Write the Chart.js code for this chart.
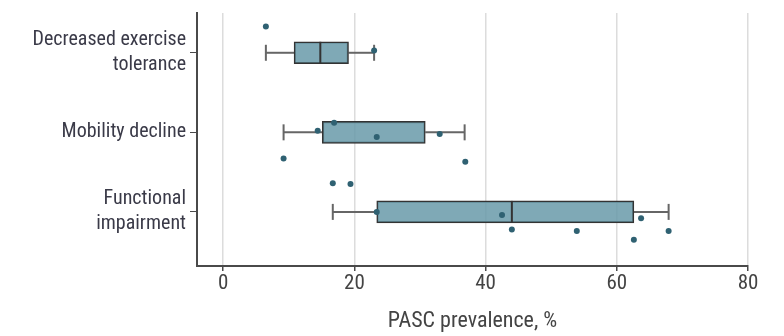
<!DOCTYPE html>
<html>
<head>
<meta charset="utf-8">
<script src="https://cdn.jsdelivr.net/npm/chart.js@4.4.1/dist/chart.umd.min.js"></script>
<style>
  html, body { margin: 0; padding: 0; background: #fff; }
  #wrap { width: 784px; height: 336px; }
</style>
</head>
<body>
<div id="wrap"><canvas id="chart"></canvas></div>
<script>
// ---- data ----
const categories = [['Decreased exercise', 'tolerance'], 'Mobility decline', ['Functional', 'impairment']];
const whiskerLow = [6.5, 9.2, 16.7];
const q1 = [10.8, 15.1, 23.4];
const median = [14.8, null, 44.0];
const q3 = [19.1, 30.8, 62.6];
const whiskerHigh = [23.0, 36.8, 67.9];

// individual studies (value, jittered row position)
const studyValues = [6.5, 23.0, 14.4, 16.9, 23.4, 33.0, 9.2, 36.9, 16.7, 19.4, 23.4, 42.5, 44.0, 53.9, 63.7, 62.6, 67.9];
const studyRows = [-0.33, -0.03, 0.98, 0.88, 1.06, 1.02, 1.33, 1.37, 1.64, 1.65, 2.0, 2.04, 2.22, 2.24, 2.08, 2.35, 2.24];

const xTicks = [0, 20, 40, 60, 80];

const FONT = "'Liberation Sans Narrow', 'Roboto Condensed', Lato, sans-serif";
const AXIS = '#4a4a4a';

const datasets = [];

// boxes (floating horizontal bars)
datasets.push({
  type: 'bar',
  indexAxis: 'y',
  data: categories.map((c, i) => ({ x: [q1[i], q3[i]], y: i })),
  backgroundColor: 'rgba(105, 154, 169, 0.85)',
  borderColor: '#333',
  borderWidth: 1.5,
  borderSkipped: false,
  barThickness: 22,
  order: 2,
});

// whiskers with caps
categories.forEach((c, i) => {
  datasets.push({
    type: 'scatter',
    showLine: true,
    data: [{ x: whiskerLow[i], y: i }, { x: q1[i], y: i }],
    borderColor: '#666',
    borderWidth: 2,
    pointStyle: 'line',
    pointRotation: 90,
    pointRadius: [8, 0],
    pointBorderColor: '#666',
    pointBorderWidth: 2,
    order: 3,
  });
  datasets.push({
    type: 'scatter',
    showLine: true,
    data: [{ x: q3[i], y: i }, { x: whiskerHigh[i], y: i }],
    borderColor: '#666',
    borderWidth: 2,
    pointStyle: 'line',
    pointRotation: 90,
    pointRadius: [0, 8],
    pointBorderColor: '#666',
    pointBorderWidth: 2,
    order: 3,
  });
});

// medians
datasets.push({
  type: 'scatter',
  data: median.map((m, i) => (m == null ? null : { x: m, y: i })).filter(Boolean),
  pointStyle: 'line',
  pointRotation: 90,
  pointRadius: 11,
  pointBorderColor: '#333',
  pointBorderWidth: 2,
  order: 1,
});

// study points
datasets.push({
  type: 'scatter',
  data: studyValues.map((v, i) => ({ x: v, y: studyRows[i] })),
  pointStyle: 'circle',
  pointRadius: 3,
  pointBackgroundColor: '#2f6172',
  pointBorderColor: '#2f6172',
  pointBorderWidth: 0,
  order: 0,
});

new Chart(document.getElementById('chart'), {
  data: { datasets },
  options: {
    responsive: true,
    maintainAspectRatio: false,
    animation: false,
    layout: { padding: { top: 13, right: 36, bottom: 0, left: 0 } },
    plugins: { legend: { display: false }, tooltip: { enabled: false } },
    scales: {
      x: {
        type: 'linear',
        position: 'bottom',
        min: -4,
        max: 80,
        offset: false,
        afterBuildTicks: (s) => { s.ticks = xTicks.map(v => ({ value: v })); },
        afterFit: (s) => { s.height = 70; s.paddingLeft = 0; s.paddingRight = 0; },
        grid: { color: '#dcdcdc', lineWidth: 1.5, tickColor: AXIS, tickLength: 5, offset: false },
        border: { color: AXIS, width: 2 },
        ticks: { color: '#444', font: { family: FONT, size: 21 }, padding: 0 },
        title: {
          display: true,
          text: 'PASC prevalence, %',
          color: '#444',
          font: { family: FONT, size: 22 },
          padding: { top: 2, bottom: 1 },
        },
      },
      y: {
        type: 'linear',
        reverse: true,
        min: -0.5,
        max: 2.68,
        offset: false,
        afterBuildTicks: (s) => { s.ticks = categories.map((c, i) => ({ value: i })); },
        afterFit: (s) => { s.width = 197; s.paddingTop = 0; s.paddingBottom = 0; },
        grid: { drawOnChartArea: false, tickColor: AXIS, tickLength: 7, offset: false },
        border: { color: AXIS, width: 2 },
        ticks: {
          color: '#3a3a48',
          font: { family: FONT, size: 20, lineHeight: 1.25 },
          padding: 4,
          callback: (v) => categories[v],
        },
      },
    },
  },
});
</script>
</body>
</html>
